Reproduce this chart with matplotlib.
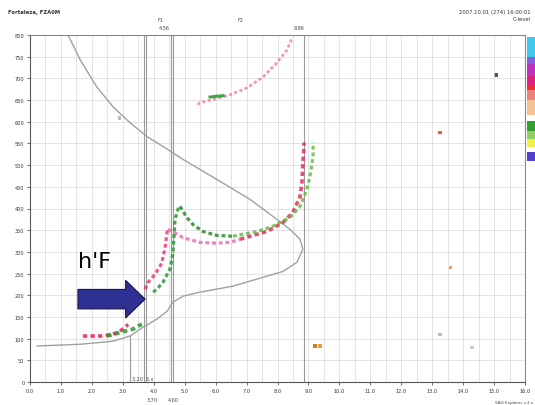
import numpy as np
import matplotlib
matplotlib.use("Agg")
import matplotlib.pyplot as plt

# true height profile (bottomside then topside), MHz / km
prof_f = [0.23, 1.62, 2.68, 3.23, 3.65, 4.10, 4.43, 4.62, 4.95, 5.49, 6.56, 7.66, 8.18, 8.63, 8.82,
          8.73, 8.40, 7.85, 7.11, 6.04, 4.95, 4.30, 3.78, 3.23, 2.69, 2.16, 1.62, 1.23]
prof_h = [83, 87, 94, 106, 126, 145, 163, 184, 198, 207, 221, 244, 255, 276, 306,
          329, 352, 382, 421, 467, 513, 543, 566, 598, 634, 680, 743, 800]

# ordinary trace
o_rise_f = [3.72, 3.82, 4.04, 4.20, 4.27, 4.30, 4.36, 4.43, 4.46]
o_rise_h = [214, 230, 248, 267, 276, 290, 305, 345, 352]
o_low_f = [4.46, 4.62, 4.94, 5.49, 6.04, 6.46, 6.79]
o_low_h = [352, 347, 333, 322, 320, 322, 329]
o_high_f = [6.79, 7.11, 7.66, 8.18, 8.50, 8.73, 8.79, 8.82, 8.86]
o_high_h = [329, 336, 347, 368, 391, 428, 460, 506, 552]

# extraordinary trace
x_rise_f = [3.98, 4.10, 4.30, 4.52, 4.59, 4.62, 4.65, 4.69, 4.78, 4.85]
x_rise_h = [207, 214, 230, 260, 283, 299, 329, 375, 398, 405]
x_low_f = [4.85, 5.07, 5.27, 5.59, 6.04, 6.56]
x_low_h = [405, 379, 363, 347, 338, 336]
x_high_f = [6.56, 7.34, 7.85, 8.40, 8.73, 8.95, 9.05, 9.15, 9.15]
x_high_h = [336, 347, 359, 379, 405, 444, 474, 520, 552]

# E layer echoes
e_o_f = [1.71, 2.33, 2.68, 2.91, 3.07, 3.17]
e_o_h = [106, 106, 110, 117, 126, 133]
e_x_f = [2.49, 3.33, 3.49, 3.62]
e_x_h = [106, 122, 129, 133]

# multiple-hop trace
m_f = [5.42, 5.49, 5.91, 6.46, 7.01, 7.53, 7.98, 8.31, 8.47]
m_h = [639, 644, 651, 662, 678, 703, 736, 766, 793]
m_x_f = [5.82, 6.04, 6.24]
m_x_h = [657, 659, 660]

# stray echoes
stray_f = [13.25, 13.60, 9.21, 9.38, 15.06, 13.25, 14.29, 2.90]
stray_h = [575, 264, 83, 83, 708, 110, 80, 609]
stray_c = ['#e06030', '#f0a050', '#d08020', '#e0a040', '#555555', '#bbbbbb', '#cccccc', '#bbbbbb']

# scaled frequency markers
marks = [3.68, 3.74, 4.56, 4.63, 8.86]

# colour legend strip
cb_colors = ['#40c8f0', '#8060e0', '#c030c0', '#e02080', '#f03030', '#f08080', '#f8c090',
             '#ffffff', '#30a030', '#90d060', '#f0f040', '#ffffff', '#5040d0']
cb_sizes = [20, 7, 11, 9, 5, 10, 15, 6, 9, 8, 8, 5, 9]

fig = plt.figure(figsize=(5.35, 4.06), dpi=100)
W, H = 535, 406
ax = fig.add_axes([30 / W, 1 - 383 / H, 495 / W, 347 / H])
ax.set_xlim(0, 16)
ax.set_ylim(0, 800)

ax.set_xticks(np.arange(0, 16.01, 1.0))
ax.set_xticklabels(['%.1f' % v for v in np.arange(0, 16.01, 1.0)])
ax.set_yticks(np.arange(0, 801, 50))
ax.set_xticks(np.arange(0, 16.01, 0.5), minor=True)
ax.tick_params(labelsize=3.6, length=2, width=0.5, colors='#333333', pad=2)
ax.tick_params(which='minor', length=0)
ax.grid(True, which='both', color='#d8d8d8', lw=0.5)
for s in ax.spines.values():
    s.set_color('#888888')
    s.set_linewidth(0.8)
ax.spines['left'].set_color('#555555')
ax.spines['bottom'].set_color('#555555')

for m in marks:
    ax.axvline(m, color='#9a9a9a', lw=0.8)
ax.plot([3.23, 3.23], [0, 106], color='#9a9a9a', lw=0.8)

ax.plot(prof_f, prof_h, color='#a0a0a0', lw=1.0)

dash = (0, (1.2, 0.9))
ax.plot(o_rise_f, o_rise_h, color='#e8306a', lw=2.3, ls=dash, alpha=0.8)
ax.plot(o_low_f, o_low_h, color='#f060b0', lw=2.3, ls=dash, alpha=0.8)
ax.plot(o_high_f, o_high_h, color='#e82050', lw=2.6, ls=dash, alpha=0.8)
ax.plot(x_rise_f, x_rise_h, color='#2a9a30', lw=2.3, ls=dash, alpha=0.85)
ax.plot(x_low_f, x_low_h, color='#2a8a30', lw=2.3, ls=dash, alpha=0.85)
ax.plot(x_high_f, x_high_h, color='#60b840', lw=2.3, ls=dash, alpha=0.8)
ax.plot(e_o_f, e_o_h, color='#e82050', lw=2.6, ls=dash, alpha=0.85)
ax.plot(e_x_f, e_x_h, color='#2a9a30', lw=2.8, ls=dash, alpha=0.85)
ax.plot(m_f, m_h, color='#f070a0', lw=1.9, ls=dash, alpha=0.75)
ax.plot(m_x_f, m_x_h, color='#2a9a30', lw=2.2, alpha=0.9)
ax.scatter(stray_f, stray_h, c=stray_c, s=6, marker='s', lw=0)

ax.annotate('', xy=(3.72, 191), xytext=(1.55, 191),
            arrowprops=dict(arrowstyle='simple,head_length=1.4,head_width=2.7,tail_width=1.4',
                            fc='#2e3192', ec='#15154a', lw=0.8, mutation_scale=10,
                            shrinkA=0, shrinkB=0))
ax.text(1.55, 264, "h'F", fontsize=16, color='black')

# header texts
fig.text(8 / W, 1 - 14 / H, 'Fortaleza, FZA0M', fontsize=3.8, weight='bold', color='#333333')
fig.text(531 / W, 1 - 14 / H, '2007.10.01 (274) 16:00:01', fontsize=3.8, ha='right', color='#333333')
fig.text(531 / W, 1 - 21 / H, 'C-level', fontsize=3.8, ha='right', color='#333333')
fig.text(160 / W, 1 - 22 / H, 'F1', fontsize=3.5, ha='center', color='#444444')
fig.text(164 / W, 1 - 30 / H, '4.56', fontsize=3.5, ha='center', color='#444444')
fig.text(240 / W, 1 - 22 / H, 'F2', fontsize=3.5, ha='center', color='#444444')
fig.text(299 / W, 1 - 30 / H, '8.86', fontsize=3.5, ha='center', color='#444444')
fig.text(143 / W, 1 - 381 / H, '3.20  3.x', fontsize=3.5, ha='center', color='#444444')
fig.text(152 / W, 1 - 402 / H, '3.70', fontsize=3.5, ha='center', color='#444444')
fig.text(173 / W, 1 - 402 / H, '4.60', fontsize=3.5, ha='center', color='#444444')
fig.text(533 / W, 1 - 404 / H, 'SAO Explorer v.3.x', fontsize=3.0, ha='right', color='#444444')

# colour strip at right edge
cax = fig.add_axes([527 / W, 1 - 162 / H, 12 / W, 124 / H])
bottoms = np.cumsum([0] + cb_sizes[::-1][:-1])
cax.bar([0] * len(cb_sizes), cb_sizes[::-1], bottom=bottoms, width=1, color=cb_colors[::-1], lw=0)
cax.set_xlim(-0.5, 0.5)
cax.set_ylim(0, sum(cb_sizes))
cax.axis('off')

fig.savefig('out.png', dpi=100)
